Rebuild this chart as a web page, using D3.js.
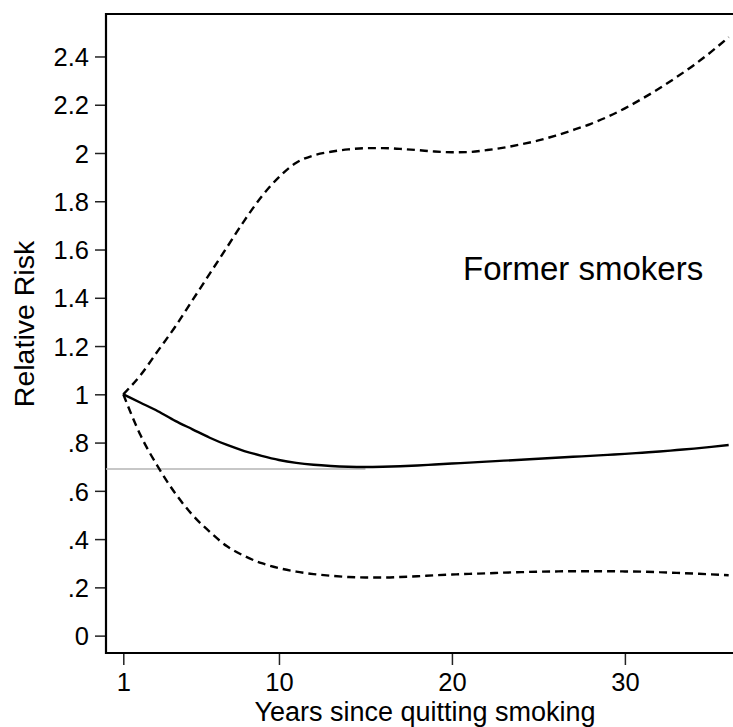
<!DOCTYPE html>
<html>
<head>
<meta charset="utf-8">
<script src="https://cdn.jsdelivr.net/npm/d3@7"></script>
<style>
  body { margin: 0; background: #fff; }
  text { font-family: "Liberation Sans", Arial, sans-serif; fill: #000; }
</style>
</head>
<body>
<div id="chart"></div>
<script>
// years since quitting
var years = [1,2,3,4,5,6,7,8,9,10,11,12,13,14,15,16,17,18,19,20,21,22,23,24,25,26,27,28,29,30,31,32,33,34,35,36];
// relative risk estimate
var rr = [1.0,0.965,0.93,0.89,0.855,0.82,0.79,0.765,0.745,0.728,0.716,0.708,0.703,0.70,0.699,0.70,0.702,0.705,0.709,0.713,
          0.717,0.721,0.725,0.729,0.733,0.737,0.741,0.745,0.749,0.753,0.758,0.763,0.769,0.775,0.782,0.79];
// upper confidence bound
var upper = [1.0,1.08,1.18,1.28,1.39,1.50,1.61,1.72,1.82,1.90,1.96,1.99,2.005,2.015,2.02,2.02,2.017,2.012,2.006,2.003,
             2.004,2.012,2.022,2.036,2.052,2.072,2.095,2.12,2.15,2.185,2.225,2.268,2.315,2.365,2.42,2.48];
// lower confidence bound
var lower = [1.0,0.83,0.70,0.59,0.50,0.43,0.37,0.33,0.30,0.28,0.265,0.255,0.248,0.243,0.241,0.241,0.243,0.246,0.25,0.253,
             0.256,0.258,0.261,0.263,0.265,0.266,0.267,0.267,0.267,0.266,0.265,0.263,0.26,0.257,0.254,0.25];
var refLine = { from: 0, to: 15, value: 0.69 };

var xTicks = [1, 10, 20, 30];
var yTicks = [0, 0.2, 0.4, 0.6, 0.8, 1, 1.2, 1.4, 1.6, 1.8, 2, 2.2, 2.4];

var W = 733, H = 727;
var margin = { top: 14, right: 0, bottom: 74, left: 106 },
    width = W - margin.left - margin.right,
    height = H - margin.top - margin.bottom;

var svg = d3.select('#chart')
  .append('svg')
    .attr('width', W)
    .attr('height', H);

var x = d3.scaleLinear().domain([0, 36.25]).range([margin.left, margin.left + width]);
var y = d3.scaleLinear().domain([-0.072, 2.576]).range([margin.top + height, margin.top]);

function fmt(d) {
  if (d === 0) return '0';
  var s = d3.format('.1f')(d);
  if (s.slice(-2) === '.0') s = s.slice(0, -2);
  if (s.indexOf('0.') === 0) s = s.slice(1);
  return s;
}

// y axis
var yAxis = svg.append('g')
  .attr('transform', 'translate(' + margin.left + ',0)')
  .call(d3.axisLeft(y).tickValues(yTicks).tickFormat(fmt).tickSize(11).tickPadding(6));
yAxis.select('.domain').remove();
yAxis.selectAll('.tick line').attr('stroke', '#222').attr('stroke-width', 1.5);
yAxis.selectAll('.tick text').style('font-size', '25.5px').attr('dy', '0.36em');

// x axis
var xAxis = svg.append('g')
  .attr('transform', 'translate(0,' + (margin.top + height) + ')')
  .call(d3.axisBottom(x).tickValues(xTicks).tickFormat(d3.format('d')).tickSize(12).tickPadding(8));
xAxis.select('.domain').remove();
xAxis.selectAll('.tick line').attr('stroke', '#222').attr('stroke-width', 1.5);
xAxis.selectAll('.tick text').style('font-size', '25.5px');

// frame (left, top, bottom)
svg.append('path')
  .attr('d', 'M' + (margin.left + width) + ',' + margin.top + 'H' + margin.left +
             'V' + (margin.top + height) + 'H' + (margin.left + width))
  .attr('fill', 'none')
  .attr('stroke', '#000')
  .attr('stroke-width', 2.2);

// reference line
svg.append('line')
  .attr('x1', x(refLine.from)).attr('x2', x(refLine.to))
  .attr('y1', y(refLine.value)).attr('y2', y(refLine.value))
  .attr('stroke', '#b4b4b4')
  .attr('stroke-width', 1.5);

var line = function(vals) {
  return d3.line()
    .x(function(d, i) { return x(years[i]); })
    .y(function(d) { return y(d); })
    .curve(d3.curveMonotoneX)(vals);
};

svg.append('path')
  .attr('d', line(upper))
  .attr('fill', 'none').attr('stroke', '#000').attr('stroke-width', 2.4)
  .attr('stroke-dasharray', '8,5');
svg.append('path')
  .attr('d', line(lower))
  .attr('fill', 'none').attr('stroke', '#000').attr('stroke-width', 2.4)
  .attr('stroke-dasharray', '8,5');
svg.append('path')
  .attr('d', line(rr))
  .attr('fill', 'none').attr('stroke', '#000').attr('stroke-width', 2.4);

// labels
svg.append('text')
  .attr('x', 463).attr('y', 280)
  .style('font-size', '33px')
  .text('Former smokers');

svg.append('text')
  .attr('x', 425).attr('y', 721)
  .attr('text-anchor', 'middle')
  .style('font-size', '27px')
  .text('Years since quitting smoking');

svg.append('text')
  .attr('transform', 'translate(34,324) rotate(-90)')
  .attr('text-anchor', 'middle')
  .style('font-size', '28.5px')
  .text('Relative Risk');
</script>
</body>
</html>
